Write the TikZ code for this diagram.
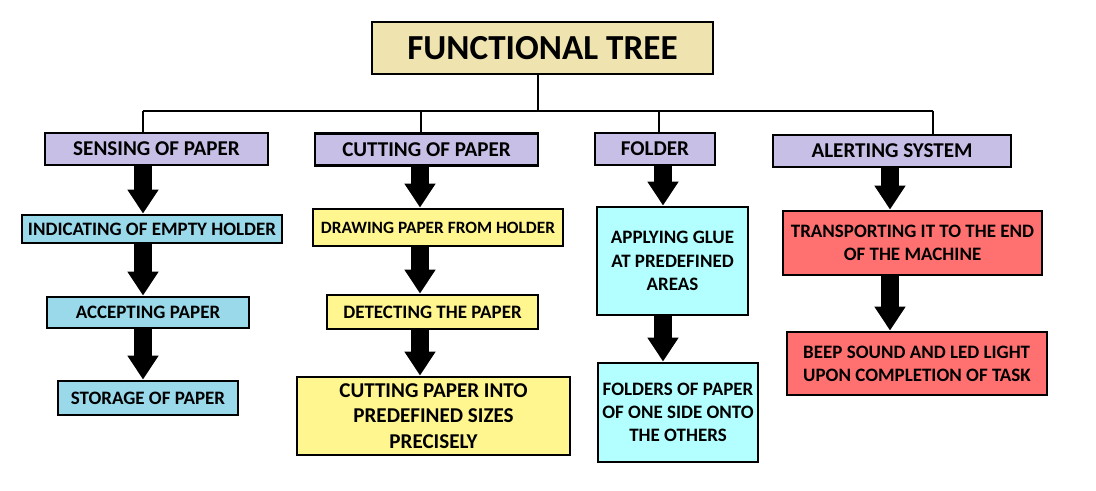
\documentclass[tikz,border=0pt]{standalone}
\usepackage{fontspec}
\setmainfont{Carlito}
\usetikzlibrary{arrows.meta}
\definecolor{titlebg}{HTML}{EFE4B0}
\definecolor{headbg}{HTML}{C8BFE7}
\definecolor{bluebg}{HTML}{99D9EA}
\definecolor{yellowbg}{HTML}{FFF68F}
\definecolor{cyanbg}{HTML}{B3FFFF}
\definecolor{redbg}{HTML}{FF7171}

\begin{document}
\begin{tikzpicture}[x=0.025cm,y=-0.025cm]
					\tikzstyle{box} = [rectangle,draw=black,line width=2pt,inner sep=2pt,align=center,font=\fontsize{13.5}{16.5}\selectfont\bfseries]
					\tikzstyle{head} = [box,fill=headbg,minimum height=0.8cm,font=\fontsize{15}{18}\selectfont\bfseries]
					\tikzstyle{edge} = [-,line width=2pt]
					\tikzstyle{fat} = [-{Triangle[width=21pt,length=17pt]},line width=12.5pt]
					\useasboundingbox (0,0) rectangle (1096,491);
					% title and first level
					\node[box,fill=titlebg,minimum width=8.525cm,minimum height=1.3cm,font=\fontsize{25}{28}\selectfont\bfseries] (n0) at (542.5,48) {FUNCTIONAL TREE};
					\node[head,minimum width=5.575cm] (n1) at (156.5,149) {SENSING OF PAPER};
					\node[head,minimum width=5.575cm] (n2) at (426.5,149.5) {CUTTING OF PAPER};
					\node[head,minimum width=3cm] (n3) at (655,149) {FOLDER};
					\node[head,minimum width=5.95cm] (n4) at (892,151) {ALERTING SYSTEM};
					% sensing column
					\node[box,fill=bluebg,minimum width=6.5cm,minimum height=0.7cm] (n5) at (152,229) {INDICATING OF EMPTY HOLDER};
					\node[box,fill=bluebg,minimum width=5.05cm,minimum height=0.775cm] (n6) at (148,312.5) {ACCEPTING PAPER};
					\node[box,fill=bluebg,minimum width=4.5cm,minimum height=0.85cm] (n7) at (148,398) {STORAGE OF PAPER};
					% cutting column
					\node[box,fill=yellowbg,minimum width=6.25cm,minimum height=0.925cm,font=\fontsize{12.3}{15}\selectfont\bfseries] (n8) at (438,227.5) {DRAWING PAPER FROM HOLDER};
					\node[box,fill=yellowbg,minimum width=5.275cm,minimum height=0.85cm] (n9) at (432.5,312) {DETECTING THE PAPER};
					\node[box,fill=yellowbg,minimum width=6.825cm,minimum height=1.95cm,font=\fontsize{15}{18}\selectfont\bfseries] (n10) at (433.5,416) {CUTTING PAPER INTO\\PREDEFINED SIZES\\PRECISELY};
					% folder column
					\node[box,fill=cyanbg,minimum width=3.775cm,minimum height=2.7cm] (n11) at (672.5,261) {APPLYING GLUE\\AT PREDEFINED\\AREAS};
					\node[box,fill=cyanbg,minimum width=4cm,minimum height=2.475cm] (n12) at (678,412.5) {FOLDERS OF PAPER\\OF ONE SIDE ONTO\\THE OTHERS};
					% alerting column
					\node[box,fill=redbg,minimum width=6.475cm,minimum height=1.6cm] (n13) at (912.5,243) {TRANSPORTING IT TO THE END\\OF THE MACHINE};
					\node[box,fill=redbg,minimum width=6.5cm,minimum height=1.575cm,align=left] (n14) at (917,363.5) {BEEP SOUND AND LED LIGHT\\UPON COMPLETION OF TASK};
					% bus
					\coordinate (b0) at (538,111);
					\coordinate (b1) at (143,111);
					\coordinate (b2) at (421,111);
					\coordinate (b3) at (659,111);
					\coordinate (b4) at (933,111);
					\draw[edge] (n0.south -| b0)--(b0);
					\draw[edge] (b1)--(b4);
					\draw[edge] (b1)--(n1.north -| b1);
					\draw[edge] (b2)--(n2.north -| b2);
					\draw[edge] (b3)--(n3.north -| b3);
					\draw[edge] (b4)--(n4.north -| b4);
					% column axes
					\coordinate (c1) at (143,0);
					\coordinate (c2) at (420,0);
					\coordinate (c3) at (663,0);
					\coordinate (c4) at (890,0);
					\draw[fat] (n1.south -| c1)--(n5.north -| c1);
					\draw[fat] (n5.south -| c1)--(n6.north -| c1);
					\draw[fat] (n6.south -| c1)--(n7.north -| c1);
					\draw[fat] (n2.south -| c2)--(n8.north -| c2);
					\draw[fat] (n8.south -| c2)--(n9.north -| c2);
					\draw[fat] (n9.south -| c2)--(n10.north -| c2);
					\draw[fat] (n3.south -| c3)--(n11.north -| c3);
					\draw[fat] (n11.south -| c3)--(n12.north -| c3);
					\draw[fat] (n4.south -| c4)--(n13.north -| c4);
					\draw[fat] (n13.south -| c4)--(n14.north -| c4);
\end{tikzpicture}
\end{document}
